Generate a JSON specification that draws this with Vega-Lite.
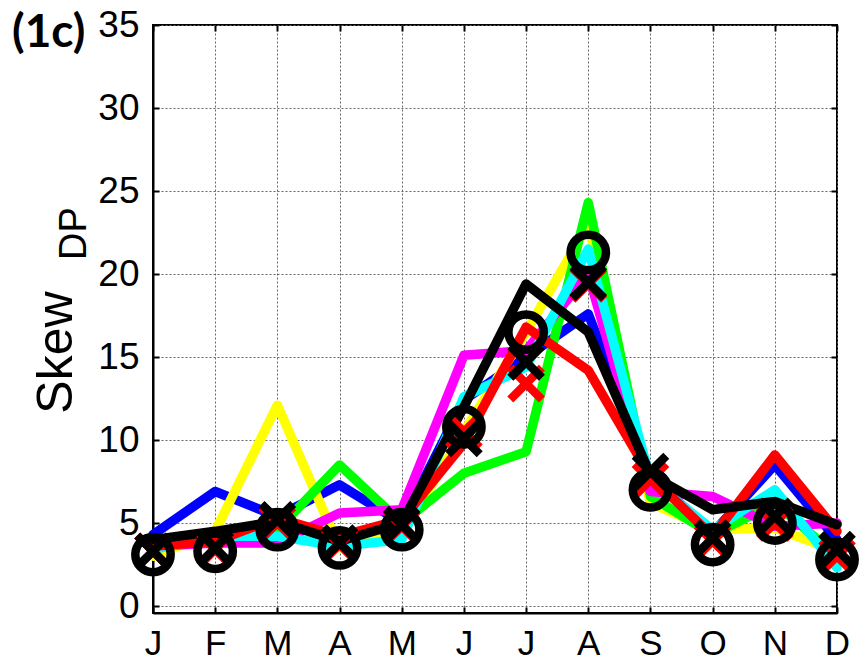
{
  "$schema": "https://vega.github.io/schema/vega-lite/v6.json",
  "width": 684,
  "height": 588,
  "autosize": {"type": "none"},
  "padding": {"left": 153, "top": 25, "right": 22, "bottom": 47},
  "background": "white",
  "title": {
    "text": "(1c)",
    "anchor": "start",
    "frame": "group",
    "orient": "top",
    "font": "Lato",
    "fontSize": 46,
    "fontWeight": "bold",
    "color": "black",
    "baseline": "alphabetic",
    "offset": 0,
    "dx": -141,
    "dy": 87
  },
  "config": {
    "view": {"stroke": "black", "strokeWidth": 2},
    "axis": {
      "labelFont": "Liberation Sans",
      "labelFontSize": 37,
      "labelColor": "black",
      "titleFont": "Liberation Sans",
      "titleColor": "black",
      "titleFontWeight": "normal",
      "domainColor": "black",
      "domainWidth": 2,
      "tickColor": "black",
      "tickWidth": 2,
      "gridColor": "#666666",
      "gridWidth": 1,
      "gridDash": [2, 2],
      "gridOpacity": 1
    }
  },
  "datasets": {
    "lines": [
      {"s": "s1", "month": "Jan", "v": 4.3}, {"s": "s1", "month": "Feb", "v": 6.9}, {"s": "s1", "month": "Mar", "v": 5.4}, {"s": "s1", "month": "Apr", "v": 7.3}, {"s": "s1", "month": "May", "v": 5.0}, {"s": "s1", "month": "Jun", "v": 12.4}, {"s": "s1", "month": "Jul", "v": 15.0}, {"s": "s1", "month": "Aug", "v": 17.6}, {"s": "s1", "month": "Sep", "v": 7.8}, {"s": "s1", "month": "Oct", "v": 4.4}, {"s": "s1", "month": "Nov", "v": 8.5}, {"s": "s1", "month": "Dec", "v": 4.0},
      {"s": "s2", "month": "Jan", "v": 3.0}, {"s": "s2", "month": "Feb", "v": 4.5}, {"s": "s2", "month": "Mar", "v": 12.1}, {"s": "s2", "month": "Apr", "v": 3.5}, {"s": "s2", "month": "May", "v": 4.3}, {"s": "s2", "month": "Jun", "v": 10.5}, {"s": "s2", "month": "Jul", "v": 16.5}, {"s": "s2", "month": "Aug", "v": 23.0}, {"s": "s2", "month": "Sep", "v": 6.2}, {"s": "s2", "month": "Oct", "v": 4.6}, {"s": "s2", "month": "Nov", "v": 4.7}, {"s": "s2", "month": "Dec", "v": 3.3},
      {"s": "s3", "month": "Jan", "v": 3.5}, {"s": "s3", "month": "Feb", "v": 4.4}, {"s": "s3", "month": "Mar", "v": 4.6}, {"s": "s3", "month": "Apr", "v": 8.5}, {"s": "s3", "month": "May", "v": 5.0}, {"s": "s3", "month": "Jun", "v": 8.0}, {"s": "s3", "month": "Jul", "v": 9.3}, {"s": "s3", "month": "Aug", "v": 24.3}, {"s": "s3", "month": "Sep", "v": 6.6}, {"s": "s3", "month": "Oct", "v": 4.3}, {"s": "s3", "month": "Nov", "v": 6.2}, {"s": "s3", "month": "Dec", "v": 3.0},
      {"s": "s4", "month": "Jan", "v": 3.6}, {"s": "s4", "month": "Feb", "v": 3.8}, {"s": "s4", "month": "Mar", "v": 3.8}, {"s": "s4", "month": "Apr", "v": 5.6}, {"s": "s4", "month": "May", "v": 5.8}, {"s": "s4", "month": "Jun", "v": 15.1}, {"s": "s4", "month": "Jul", "v": 15.4}, {"s": "s4", "month": "Aug", "v": 20.0}, {"s": "s4", "month": "Sep", "v": 6.9}, {"s": "s4", "month": "Oct", "v": 6.6}, {"s": "s4", "month": "Nov", "v": 4.8}, {"s": "s4", "month": "Dec", "v": 5.0},
      {"s": "s5", "month": "Jan", "v": 3.4}, {"s": "s5", "month": "Feb", "v": 4.2}, {"s": "s5", "month": "Mar", "v": 4.2}, {"s": "s5", "month": "Apr", "v": 3.6}, {"s": "s5", "month": "May", "v": 4.0}, {"s": "s5", "month": "Jun", "v": 12.6}, {"s": "s5", "month": "Jul", "v": 14.4}, {"s": "s5", "month": "Aug", "v": 21.5}, {"s": "s5", "month": "Sep", "v": 7.6}, {"s": "s5", "month": "Oct", "v": 4.6}, {"s": "s5", "month": "Nov", "v": 7.0}, {"s": "s5", "month": "Dec", "v": 2.3},
      {"s": "s6", "month": "Jan", "v": 3.6}, {"s": "s6", "month": "Feb", "v": 3.9}, {"s": "s6", "month": "Mar", "v": 5.3}, {"s": "s6", "month": "Apr", "v": 4.2}, {"s": "s6", "month": "May", "v": 5.2}, {"s": "s6", "month": "Jun", "v": 9.8}, {"s": "s6", "month": "Jul", "v": 16.8}, {"s": "s6", "month": "Aug", "v": 14.2}, {"s": "s6", "month": "Sep", "v": 7.8}, {"s": "s6", "month": "Oct", "v": 4.2}, {"s": "s6", "month": "Nov", "v": 9.1}, {"s": "s6", "month": "Dec", "v": 4.5},
      {"s": "s7", "month": "Jan", "v": 4.0}, {"s": "s7", "month": "Feb", "v": 4.5}, {"s": "s7", "month": "Mar", "v": 5.1}, {"s": "s7", "month": "Apr", "v": 3.9}, {"s": "s7", "month": "May", "v": 5.0}, {"s": "s7", "month": "Jun", "v": 12.0}, {"s": "s7", "month": "Jul", "v": 19.4}, {"s": "s7", "month": "Aug", "v": 16.5}, {"s": "s7", "month": "Sep", "v": 7.9}, {"s": "s7", "month": "Oct", "v": 5.8}, {"s": "s7", "month": "Nov", "v": 6.3}, {"s": "s7", "month": "Dec", "v": 4.9}
    ],
    "markers": [
      {"k": "xr", "month": "Jan", "v": 3.3}, {"k": "xr", "month": "Feb", "v": 3.4}, {"k": "xr", "month": "Mar", "v": 5.0}, {"k": "xr", "month": "Apr", "v": 3.7}, {"k": "xr", "month": "May", "v": 4.8}, {"k": "xr", "month": "Jun", "v": 10.5}, {"k": "xr", "month": "Jul", "v": 13.4}, {"k": "xr", "month": "Aug", "v": 19.4}, {"k": "xr", "month": "Sep", "v": 7.6}, {"k": "xr", "month": "Oct", "v": 3.9}, {"k": "xr", "month": "Nov", "v": 5.0}, {"k": "xr", "month": "Dec", "v": 3.0},
      {"k": "xk", "month": "Jan", "v": 3.3}, {"k": "xk", "month": "Feb", "v": 3.5}, {"k": "xk", "month": "Mar", "v": 5.2}, {"k": "xk", "month": "Apr", "v": 3.8}, {"k": "xk", "month": "May", "v": 4.9}, {"k": "xk", "month": "Jun", "v": 10.1}, {"k": "xk", "month": "Jul", "v": 14.7}, {"k": "xk", "month": "Aug", "v": 19.5}, {"k": "xk", "month": "Sep", "v": 8.1}, {"k": "xk", "month": "Oct", "v": 4.1}, {"k": "xk", "month": "Nov", "v": 5.4}, {"k": "xk", "month": "Dec", "v": 3.4},
      {"k": "o", "month": "Jan", "v": 3.1}, {"k": "o", "month": "Feb", "v": 3.3}, {"k": "o", "month": "Mar", "v": 4.6}, {"k": "o", "month": "Apr", "v": 3.5}, {"k": "o", "month": "May", "v": 4.6}, {"k": "o", "month": "Jun", "v": 10.8}, {"k": "o", "month": "Jul", "v": 16.5}, {"k": "o", "month": "Aug", "v": 21.3}, {"k": "o", "month": "Sep", "v": 7.0}, {"k": "o", "month": "Oct", "v": 3.7}, {"k": "o", "month": "Nov", "v": 5.0}, {"k": "o", "month": "Dec", "v": 2.8}
    ]
  },
  "layer": [
    {
      "data": {"name": "lines"},
      "transform": [{"filter": "datum.s != 's7'"}],
      "mark": {"type": "line", "strokeWidth": 9.5, "strokeJoin": "round", "strokeCap": "round"},
      "encoding": {
        "x": {
          "field": "month", "type": "ordinal",
          "scale": {"type": "point", "padding": 0, "domain": ["Jan", "Feb", "Mar", "Apr", "May", "Jun", "Jul", "Aug", "Sep", "Oct", "Nov", "Dec"]},
          "axis": {"orient": "bottom", "title": null, "labelAngle": 0, "labelExpr": "substring(datum.label, 0, 1)", "grid": true, "tickSize": -6, "labelPadding": 19, "labelFontSize": 35}
        },
        "y": {
          "field": "v", "type": "quantitative",
          "scale": {"domain": [-0.42, 35], "nice": false, "zero": false},
          "axis": {"orient": "left", "values": [0, 5, 10, 15, 20, 25, 30, 35], "grid": true, "tickSize": -6, "labelPadding": 20,
            "title": "Skew", "titleFontSize": 50, "titleAngle": -90, "titleAlign": "center", "titleBaseline": "alphabetic", "titleX": -82, "titleY": 327}
        },
        "color": {"field": "s", "type": "nominal", "legend": null,
          "scale": {"domain": ["s1", "s2", "s3", "s4", "s5", "s6", "s7"], "range": ["#0000ff", "#ffff00", "#00ff00", "#ff00ff", "#00ffff", "#ff0000", "#000000"]}}
      }
    },
    {
      "data": {"name": "lines"},
      "transform": [{"filter": "datum.s == 's7'"}],
      "mark": {"type": "line", "strokeWidth": 9.5, "strokeJoin": "round", "strokeCap": "round", "color": "black"},
      "encoding": {
        "x": {"field": "month", "type": "ordinal", "scale": {"type": "point", "padding": 0, "domain": ["Jan", "Feb", "Mar", "Apr", "May", "Jun", "Jul", "Aug", "Sep", "Oct", "Nov", "Dec"]}, "axis": null},
        "y": {"field": "v", "type": "quantitative", "scale": {"domain": [-0.42, 35], "nice": false, "zero": false}, "axis": null}
      }
    },
    {
      "data": {"name": "markers"},
      "transform": [{"filter": "datum.k == 'xr'"}],
      "mark": {"type": "point", "shape": "M-1,-1L1,1M-1,1L1,-1", "filled": false, "stroke": "#ff0000", "strokeWidth": 8.5, "size": 1000, "opacity": 1},
      "encoding": {
        "x": {"field": "month", "type": "ordinal", "scale": {"type": "point", "padding": 0, "domain": ["Jan", "Feb", "Mar", "Apr", "May", "Jun", "Jul", "Aug", "Sep", "Oct", "Nov", "Dec"]},
          "axis": {"orient": "top", "labels": false, "domain": false, "grid": false, "tickSize": -6, "title": null}},
        "y": {"field": "v", "type": "quantitative", "scale": {"domain": [-0.42, 35], "nice": false, "zero": false},
          "axis": {"orient": "right", "values": [0, 5, 10, 15, 20, 25, 30, 35], "labels": false, "domain": false, "grid": false, "tickSize": -6, "title": null}}
      }
    },
    {
      "data": {"name": "markers"},
      "transform": [{"filter": "datum.k == 'xk'"}],
      "mark": {"type": "point", "shape": "M-1,-1L1,1M-1,1L1,-1", "filled": false, "stroke": "#000000", "strokeWidth": 8.5, "size": 1000, "opacity": 1},
      "encoding": {
        "x": {"field": "month", "type": "ordinal", "scale": {"type": "point", "padding": 0, "domain": ["Jan", "Feb", "Mar", "Apr", "May", "Jun", "Jul", "Aug", "Sep", "Oct", "Nov", "Dec"]}, "axis": null},
        "y": {"field": "v", "type": "quantitative", "scale": {"domain": [-0.42, 35], "nice": false, "zero": false}, "axis": null}
      }
    },
    {
      "data": {"name": "markers"},
      "transform": [{"filter": "datum.k == 'o'"}],
      "mark": {"type": "point", "shape": "circle", "filled": false, "stroke": "#000000", "strokeWidth": 8.5, "size": 1250, "opacity": 1},
      "encoding": {
        "x": {"field": "month", "type": "ordinal", "scale": {"type": "point", "padding": 0, "domain": ["Jan", "Feb", "Mar", "Apr", "May", "Jun", "Jul", "Aug", "Sep", "Oct", "Nov", "Dec"]}, "axis": null},
        "y": {"field": "v", "type": "quantitative", "scale": {"domain": [-0.42, 35], "nice": false, "zero": false},
          "axis": {"orient": "left", "labels": false, "ticks": false, "domain": false, "grid": false,
            "title": "DP", "titleFontSize": 38, "titleAngle": -90, "titleAlign": "center", "titleBaseline": "alphabetic", "titleX": -68, "titleY": 208}}
      }
    }
  ],
  "resolve": {"axis": {"x": "independent", "y": "independent"}}
}
